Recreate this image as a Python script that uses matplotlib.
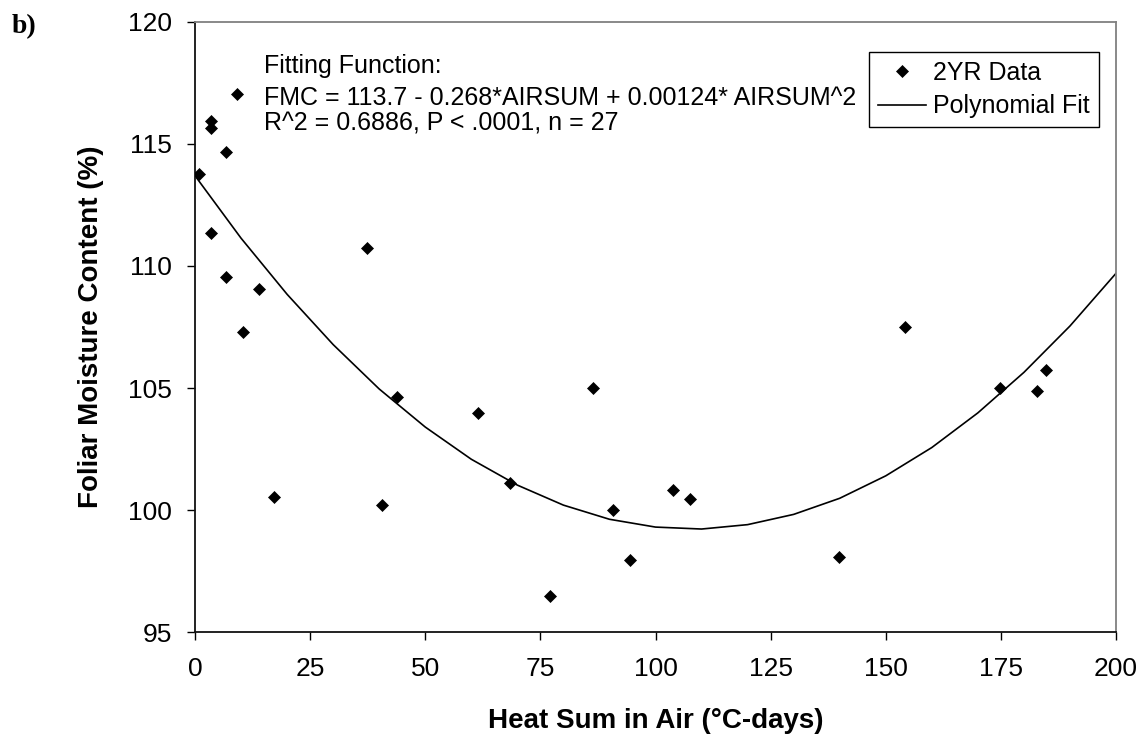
import matplotlib
matplotlib.use("Agg")
import matplotlib.pyplot as plt

# Observed data (2YR Data)
heat_sum = [0.9, 3.5, 3.5, 3.5, 6.7, 6.7, 9.1, 10.5, 13.9, 17.2, 37.4, 40.5,
            43.9, 61.5, 68.5, 77.1, 86.4, 90.7, 94.5, 103.9, 107.4, 139.8,
            154.1, 174.8, 182.9, 184.9]
fmc = [113.76, 115.95, 115.64, 111.34, 114.68, 109.56, 117.04, 107.28, 109.04,
       100.52, 110.75, 100.22, 104.64, 103.96, 101.11, 96.48, 105.0, 100.0,
       97.95, 100.81, 100.44, 98.09, 107.5, 104.99, 104.86, 105.74]

# Polynomial fit curve
fit_x = [0, 10, 20, 30, 40, 50, 60, 70, 80, 90, 100, 110, 120, 130, 140, 150,
         160, 170, 180, 190, 200]
fit_y = [113.7, 111.14, 108.84, 106.78, 104.96, 103.4, 102.08, 101.02, 100.2,
         99.62, 99.3, 99.22, 99.4, 99.82, 100.48, 101.4, 102.56, 103.98,
         105.64, 107.54, 109.7]

x_ticks = [0, 25, 50, 75, 100, 125, 150, 175, 200]
y_ticks = [95, 100, 105, 110, 115, 120]

plt.rcParams['font.family'] = ['Liberation Sans', 'DejaVu Sans']

fig = plt.figure(figsize=(11.43, 7.41), dpi=100)
ax = fig.add_axes([195/1143, 1 - 632/741, 921/1143, 610/741])

ax.plot(fit_x, fit_y, color='black', lw=1.2, label='Polynomial Fit', zorder=2)
ax.plot(heat_sum, fmc, ls='none', marker='D', ms=6.6, mfc='black', mec='black',
        mew=0.5, label='2YR Data', zorder=3)

ax.set_xlim(0, 200)
ax.set_ylim(95, 120)
ax.set_xticks(x_ticks)
ax.set_yticks(y_ticks)
ax.tick_params(axis='both', direction='out', length=5.8, width=1, colors='black',
               labelsize=19)
ax.tick_params(axis='y', pad=11)
ax.tick_params(axis='x', pad=12)

for side in ['left', 'bottom']:
    ax.spines[side].set_color('#111111')
    ax.spines[side].set_linewidth(1.3)
for side in ['top', 'right']:
    ax.spines[side].set_color('#808080')
    ax.spines[side].set_linewidth(1.3)

ax.set_xlabel('Heat Sum in Air (°C-days)', fontsize=20, fontweight='bold')
ax.xaxis.label.set_va('center')
ax.xaxis.set_label_coords(0.5, (632 - 721) / 610)
ax.set_ylabel('Foliar Moisture Content (%)', fontsize=20, fontweight='bold')
ax.yaxis.label.set_va('center')
ax.yaxis.set_label_coords((91 - 195) / 921, 0.5)

tx = (264 - 195) / 921
ax.text(tx, (632 - 73.3) / 610, 'Fitting Function:', transform=ax.transAxes,
        fontsize=18, va='baseline', ha='left')
ax.text(tx, (632 - 105) / 610, 'FMC = 113.7 - 0.268*AIRSUM + 0.00124* AIRSUM^2',
        transform=ax.transAxes, fontsize=18, va='baseline', ha='left')
ax.text(tx, (632 - 130) / 610, 'R^2 = 0.6886, P < .0001, n = 27',
        transform=ax.transAxes, fontsize=18, va='baseline', ha='left')

handles, labels = ax.get_legend_handles_labels()
leg = ax.legend(handles[::-1], labels[::-1], loc='upper right',
                bbox_to_anchor=((1098.7 - 195) / 921, (632 - 52.3) / 610),
                borderaxespad=0, fontsize=18, frameon=True, fancybox=False,
                shadow=False, framealpha=1, edgecolor='black',
                handlelength=1.92, handletextpad=0.3, borderpad=0.35,
                labelspacing=0.37)
leg.get_frame().set_linewidth(1.0)

fig.text(12 / 1143, 1 - 33 / 741, 'b)', fontsize=20, fontweight='bold',
         family=['Liberation Serif', 'DejaVu Serif'], va='baseline', ha='left')

fig.savefig('out.png', dpi=100)
